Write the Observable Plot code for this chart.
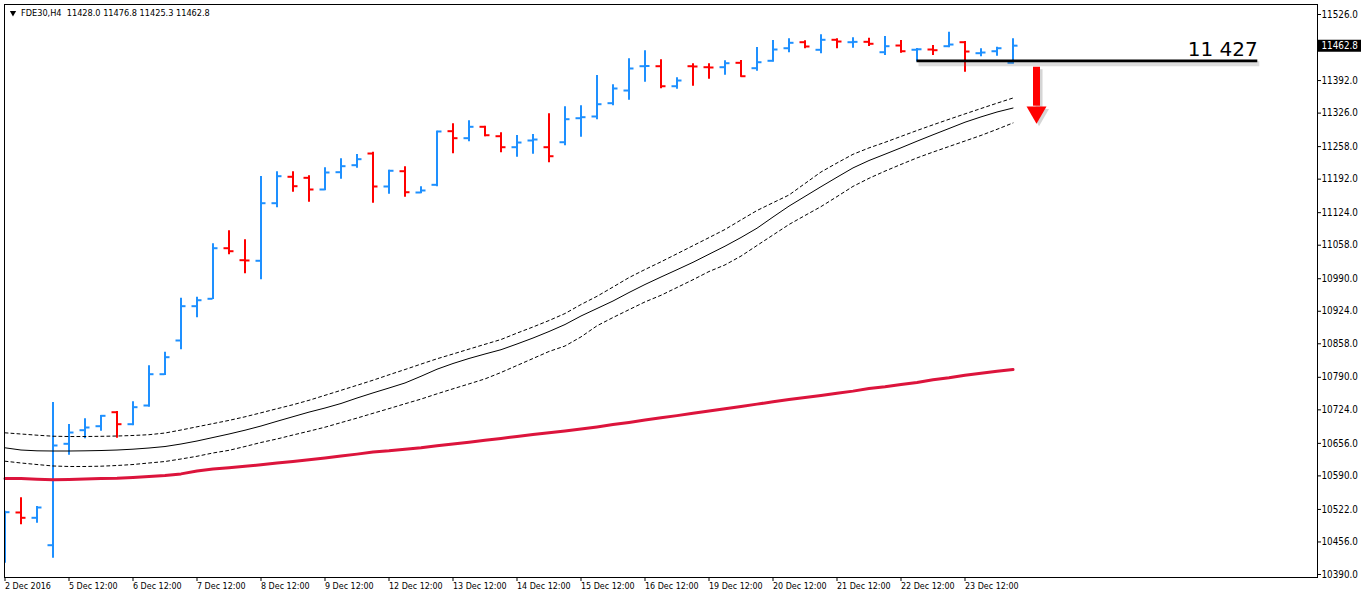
<!DOCTYPE html>
<html>
<head>
<meta charset="utf-8">
<script src="https://cdn.jsdelivr.net/npm/d3@7"></script>
<script src="https://cdn.jsdelivr.net/npm/@observablehq/plot@0.6"></script>
<style>
  html, body { margin: 0; padding: 0; background: #ffffff; overflow: hidden; }
  #chart svg { display: block; }
</style>
</head>
<body>
<div id="chart"></div>
<script>
// ---- data (FDE30, H4) ----
const symbolName = "FDE30,H4";
const opens  = [10480.0,10515.8,10505.0,10449.4,10655.1,10682.7,10690.8,10719.2,10694.9,10732.8,
                10796.3,10864.7,10934.3,10949.3,11051.9,11027.6,11026.4,11143.2,11196.8,11194.7,
                11171.0,11206.1,11220.3,11244.0,11177.1,11208.1,11164.9,11180.5,11289.3,11275.1,
                11298.2,11279.1,11256.8,11270.4,11256.8,11266.9,11315.6,11319.1,11346.1,11371.8,
                11421.1,11421.1,11380.5,11421.1,11419.1,11419.1,11428.0,11417.1,11432.1,11457.6,
                11469.8,11454.4,11474.7,11469.8,11470.6,11449.5,11463.1,11454.5,11455.0,11461.7,
                11469.8,11447.5,11451.5,11428.0];
const highs  = [10518.4,10545.6,10527.9,10738.9,10694.3,10705.8,10712.5,10720.6,10740.3,10813.3,
                10840.9,10950.5,10952.5,11060.8,11087.2,11069.0,11197.4,11206.9,11206.9,11198.8,
                11215.0,11233.3,11242.0,11246.7,11210.1,11217.0,11176.5,11289.3,11304.3,11310.4,
                11299.4,11286.0,11280.5,11282.6,11324.6,11338.8,11340.8,11402.3,11383.4,11436.1,
                11452.4,11434.1,11397.6,11426.0,11426.0,11432.1,11432.7,11459.1,11473.3,11476.7,
                11472.6,11484.8,11476.7,11478.7,11477.9,11481.4,11473.3,11457.0,11463.1,11490.1,
                11471.2,11456.4,11459.7,11476.8];
const lows   = [10412.9,10490.8,10494.1,10423.0,10632.0,10665.3,10680.7,10666.5,10691.6,10729.4,
                10793.7,10845.8,10910.7,10947.8,11038.5,11000.0,10987.8,11133.9,11165.5,11145.2,
                11168.4,11191.9,11214.2,11143.2,11161.5,11155.4,11162.3,11176.5,11243.4,11267.8,
                11277.9,11245.4,11236.5,11242.6,11225.2,11259.6,11277.1,11312.4,11340.8,11352.1,
                11388.7,11375.3,11374.5,11380.5,11394.8,11402.9,11398.8,11411.0,11429.2,11448.3,
                11456.4,11446.3,11456.4,11457.6,11461.1,11442.8,11447.5,11430.0,11442.8,11458.4,
                11409.0,11440.2,11441.4,11425.3];
const closes = [10516.4,10505.0,10525.9,10651.7,10678.0,10688.2,10711.9,10694.9,10729.4,10796.3,
                10830.8,10934.3,10946.4,11051.9,11045.8,11027.0,11143.2,11198.0,11177.7,11171.0,
                11205.5,11218.3,11232.5,11177.1,11209.0,11165.5,11169.0,11288.7,11275.1,11298.2,
                11281.1,11256.8,11266.3,11272.4,11238.5,11313.6,11317.7,11344.0,11375.9,11416.5,
                11421.5,11380.5,11392.1,11420.5,11418.5,11427.2,11400.8,11429.2,11455.0,11468.6,
                11461.1,11474.7,11471.2,11470.5,11466.6,11461.7,11451.5,11455.5,11453.6,11465.1,
                11450.9,11448.9,11457.6,11462.8];

// middle moving average (black) and its dotted envelope
const maMid   = [10647.0,10642.5,10640.9,10640.5,10640.5,10640.9,10641.5,10642.5,10644.2,10646.6,
                 10649.6,10654.7,10660.8,10667.9,10675.0,10682.7,10691.2,10700.8,10710.1,10719.4,
                 10727.7,10736.9,10748.0,10758.4,10768.3,10778.5,10792.1,10806.4,10818.0,10828.2,
                 10837.3,10846.0,10857.6,10869.7,10882.9,10897.1,10914.4,10929.6,10944.8,10962.0,
                 10978.3,10993.5,11008.3,11023.3,11039.7,11056.0,11073.6,11092.5,11115.2,11137.3,
                 11157.0,11176.7,11195.9,11214.8,11229.8,11242.6,11255.6,11269.0,11282.0,11294.7,
                 11307.5,11318.3,11328.2,11336.3];
const maUpper = [10677.4,10675.0,10672.6,10670.5,10669.9,10669.9,10670.3,10670.9,10672.0,10673.6,
                 10677.0,10683.1,10689.6,10696.1,10702.6,10709.9,10718.0,10726.3,10734.4,10743.4,
                 10753.5,10763.6,10773.8,10784.1,10795.1,10805.8,10816.8,10827.6,10837.3,10847.2,
                 10857.0,10866.7,10879.7,10892.1,10905.2,10919.4,10937.7,10954.3,10973.2,10992.3,
                 11008.7,11024.3,11040.6,11057.0,11073.4,11089.9,11109.3,11128.4,11144.2,11159.8,
                 11183.2,11206.5,11224.8,11242.4,11255.4,11266.7,11278.7,11290.7,11302.2,11313.4,
                 11324.4,11335.3,11346.1,11356.6];
const maLower = [10619.8,10616.2,10613.1,10610.1,10609.1,10609.1,10609.7,10611.1,10613.1,10616.2,
                 10619.2,10624.3,10629.8,10636.5,10641.9,10649.6,10657.8,10664.9,10673.0,10680.7,
                 10688.8,10698.1,10707.3,10717.0,10726.5,10736.3,10745.8,10756.5,10766.7,10776.6,
                 10786.8,10799.8,10814.0,10828.2,10842.4,10853.5,10872.0,10894.5,10911.3,10927.2,
                 10943.0,10956.4,10972.2,10988.0,11004.6,11018.0,11035.9,11057.4,11078.7,11100.0,
                 11118.3,11136.3,11156.6,11177.3,11193.7,11208.3,11221.9,11235.1,11246.9,11258.2,
                 11269.4,11280.7,11293.1,11306.0];
// slow moving average (thick crimson)
const maSlow  = [10584.7,10584.7,10583.3,10582.1,10582.7,10583.7,10584.7,10585.1,10586.8,10588.8,
                 10590.8,10594.1,10599.9,10604.0,10606.6,10609.5,10612.7,10616.0,10619.2,10622.7,
                 10626.1,10630.2,10634.2,10638.5,10640.9,10644.2,10647.2,10651.1,10654.7,10658.4,
                 10662.2,10666.1,10669.9,10673.8,10677.4,10681.1,10685.1,10689.4,10694.1,10698.5,
                 10703.2,10707.9,10712.3,10717.0,10721.5,10726.1,10730.8,10735.6,10740.3,10745.0,
                 10749.0,10753.1,10757.8,10762.0,10767.3,10770.8,10775.4,10779.5,10784.9,10789.2,
                 10794.3,10798.3,10802.4,10805.8];

// axis ticks
const xTickIdx    = [0,4,8,12,16,20,24,28,32,36,40,44,48,52,56,60];
const xTickLabels = ["2 Dec 2016","5 Dec 12:00","6 Dec 12:00","7 Dec 12:00","8 Dec 12:00","9 Dec 12:00",
                     "12 Dec 12:00","13 Dec 12:00","14 Dec 12:00","15 Dec 12:00","16 Dec 12:00",
                     "19 Dec 12:00","20 Dec 12:00","21 Dec 12:00","22 Dec 12:00","23 Dec 12:00"];
const yTicks = [11526,11392,11326,11258,11192,11124,11058,10990,10924,10858,10790,10724,10656,10590,10522,10456,10390];

// annotation: support level and down arrow
const levelPrice = 11432, levelFrom = 57, levelTo = 78.3, levelLabel = "11 427";
const arrowX = 64.47, arrowTop = 11419, arrowShaftEnd = 11340, arrowHead = 11327.6;

// ---- build ----
const bars = opens.map((o, i) => ({i, o, h: highs[i], l: lows[i], c: closes[i], up: closes[i] >= o}));
const upBars = bars.filter(d => d.up), downBars = bars.filter(d => !d.up);
const lines = maMid.map((m, i) => ({i, mid: m, upper: maUpper[i], lower: maLower[i], slow: maSlow[i]}));
const last = bars[bars.length - 1];
const header = `${symbolName}  ${last.o.toFixed(1)} ${last.h.toFixed(1)} ${last.l.toFixed(1)} ${last.c.toFixed(1)}`;

const BLUE = "#1E90FF", RED = "#FF0000";
const X0 = -0.03125, X1 = 82.03125;

function barMarks(data, color) {
  return [
    Plot.ruleX(data, {x: "i", y1: "l", y2: "h", stroke: color, strokeWidth: 2, clip: true}),
    Plot.ruleY(data, {y: "o", x1: "i", x2: "i", insetLeft: -5, insetRight: 0, stroke: color, strokeWidth: 2, clip: true}),
    Plot.ruleY(data, {y: "c", x1: "i", x2: "i", insetLeft: 0, insetRight: -5, stroke: color, strokeWidth: 2, clip: true})
  ];
}

const chart = Plot.plot({
  width: 1362,
  height: 599,
  marginLeft: 4,
  marginRight: 45,
  marginTop: 4,
  marginBottom: 22,
  style: {background: "#ffffff", fontFamily: "'DejaVu Sans Condensed', 'DejaVu Sans', sans-serif", color: "#000"},
  x: {domain: [X0, X1], axis: null},
  y: {domain: [10383.9, 11546.3], axis: null},
  marks: [
    Plot.axisY({anchor: "right", label: null, ticks: yTicks, tickFormat: d => d.toFixed(1), tickSize: 3, tickPadding: 1, fontSize: 9.8, stroke: "#000", fill: "#000"}),
    Plot.axisX({anchor: "bottom", label: null, ticks: xTickIdx, tickFormat: d => xTickLabels[xTickIdx.indexOf(d)], tickSize: 4, tickPadding: 1, textAnchor: "start", fontSize: 8.9, stroke: "#000", fill: "#000"}),
    ...barMarks(upBars, BLUE),
    ...barMarks(downBars, RED),
    Plot.line(lines, {x: "i", y: "slow", stroke: "#DC143C", strokeWidth: 3}),
    Plot.line(lines, {x: "i", y: "mid", stroke: "#000", strokeWidth: 1}),
    Plot.line(lines, {x: "i", y: "upper", stroke: "#000", strokeWidth: 1, strokeDasharray: "3,3"}),
    Plot.line(lines, {x: "i", y: "lower", stroke: "#000", strokeWidth: 1, strokeDasharray: "3,3"}),
    // level line with soft shadow
    Plot.ruleY([levelPrice], {x1: levelFrom, x2: levelTo, stroke: "#777", strokeOpacity: 0.25, strokeWidth: 5, dx: 2, dy: 3}),
    Plot.ruleY([levelPrice], {x1: levelFrom, x2: levelTo, stroke: "#000", strokeWidth: 2.7}),
    Plot.text([levelLabel], {x: levelTo, y: levelPrice, textAnchor: "end", lineAnchor: "bottom", dy: -4.7, dx: 0, fontSize: 20, fontFamily: "DejaVu Sans", fill: "#000"}),
    // arrow with shadow
    Plot.ruleX([0], {x: arrowX, y1: arrowTop, y2: arrowShaftEnd, stroke: "#888", strokeOpacity: 0.35, strokeWidth: 7, dx: 2.5, dy: 2.5}),
    Plot.dot([0], {x: arrowX, y: arrowHead, symbol: "triangle", rotate: 180, r: 7.4, fill: "#888", fillOpacity: 0.35, stroke: "none", dx: 2.5, dy: 2.5}),
    Plot.ruleX([0], {x: arrowX, y1: arrowTop, y2: arrowShaftEnd, stroke: RED, strokeWidth: 7}),
    Plot.dot([0], {x: arrowX, y: arrowHead, symbol: "triangle", rotate: 180, r: 7.4, fill: RED, stroke: "none"}),
    // current price box on the right scale
    Plot.ruleY([last.c], {x1: X1, x2: X1, insetLeft: 1, insetRight: -44, stroke: "#000", strokeWidth: 12}),
    Plot.text([last.c.toFixed(1)], {frameAnchor: "right", y: [last.c], dx: 4, textAnchor: "start", lineAnchor: "middle", fontSize: 9.8, fill: "#fff"}),
    // header
    Plot.dot([0], {frameAnchor: "top-left", dx: 8.5, dy: 8.3, symbol: "triangle", rotate: 180, r: 2.3, fill: "#000", stroke: "none"}),
    Plot.text([header], {frameAnchor: "top-left", dx: 16.5, dy: 8.7, textAnchor: "start", lineAnchor: "middle", fontSize: 9.1, fill: "#000"}),
    Plot.frame({stroke: "#000"})
  ]
});
document.getElementById("chart").appendChild(chart);
</script>
</body>
</html>
